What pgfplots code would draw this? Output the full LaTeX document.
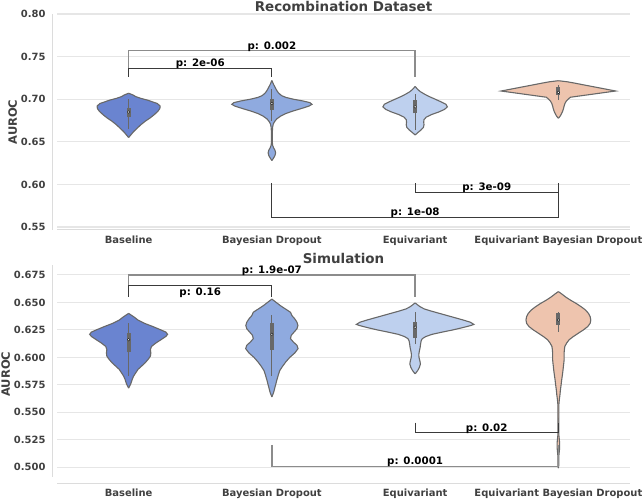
\documentclass[border=0pt]{standalone}
\usepackage{fontspec}
\setmainfont{DejaVu Sans}
\usepackage{pgfplots}
\usepackage{pgfplotstable}
\pgfplotsset{compat=1.18}
\usepgfplotslibrary{fillbetween}

\definecolor{cB}{HTML}{6A84D0}
\definecolor{cBD}{HTML}{8FAADF}
\definecolor{cEq}{HTML}{BED0EE}
\definecolor{cEBD}{HTML}{EEC4AE}
\definecolor{vline}{HTML}{686868}
\definecolor{gridc}{HTML}{E6E6E6}
\definecolor{spinec}{HTML}{DCDCDC}
\definecolor{txt}{HTML}{404040}
\definecolor{brkdark}{HTML}{3A3A3A}
\definecolor{brkgray}{HTML}{8C8C8C}

% ---------- Recombination dataset: violin outlines (y, half width) ----------
\pgfplotstableread{
y w
0.655 0
0.658 0.015
0.662 0.035
0.666 0.06
0.670 0.085
0.674 0.115
0.678 0.15
0.682 0.18
0.686 0.205
0.689 0.218
0.692 0.22
0.695 0.20
0.697 0.165
0.699 0.13
0.701 0.085
0.703 0.05
0.705 0.03
0.707 0
}\tAa
\pgfplotstableread{
y w
0.628 0
0.631 0.012
0.634 0.022
0.637 0.026
0.640 0.022
0.643 0.012
0.646 0.005
0.650 0.003
0.660 0.003
0.667 0.005
0.671 0.01
0.674 0.02
0.677 0.035
0.680 0.06
0.683 0.095
0.686 0.145
0.689 0.205
0.692 0.26
0.694 0.28
0.696 0.265
0.698 0.215
0.700 0.15
0.702 0.10
0.704 0.07
0.707 0.048
0.710 0.035
0.714 0.022
0.718 0.01
0.722 0
}\tAb
\pgfplotstableread{
y w
0.658 0
0.661 0.02
0.664 0.042
0.667 0.058
0.670 0.062
0.673 0.06
0.676 0.062
0.679 0.078
0.682 0.115
0.685 0.165
0.688 0.205
0.691 0.225
0.694 0.215
0.697 0.18
0.700 0.14
0.703 0.10
0.706 0.065
0.709 0.035
0.712 0.015
0.715 0
}\tAc
\pgfplotstableread{
y w
0.6776 0
0.680 0.012
0.683 0.022
0.686 0.03
0.689 0.036
0.692 0.04
0.695 0.046
0.698 0.056
0.700 0.068
0.7023 0.084
0.704 0.157
0.706 0.244
0.708 0.33
0.7096 0.40
0.711 0.357
0.713 0.295
0.715 0.233
0.717 0.171
0.719 0.11
0.7205 0.06
0.7217 0
}\tAd
% ---------- Simulation: violin outlines ----------
\pgfplotstableread{
y w
0.572 0
0.576 0.015
0.580 0.025
0.583 0.035
0.586 0.05
0.589 0.065
0.592 0.09
0.595 0.115
0.598 0.135
0.601 0.152
0.604 0.155
0.607 0.152
0.610 0.16
0.613 0.19
0.616 0.225
0.619 0.26
0.621 0.272
0.623 0.26
0.625 0.225
0.628 0.17
0.631 0.11
0.634 0.065
0.637 0.035
0.640 0
}\tBa
\pgfplotstableread{
y w
0.564 0
0.568 0.012
0.572 0.02
0.576 0.028
0.580 0.036
0.584 0.045
0.588 0.055
0.592 0.075
0.596 0.098
0.600 0.125
0.604 0.16
0.608 0.183
0.611 0.175
0.614 0.15
0.617 0.13
0.620 0.135
0.623 0.155
0.626 0.175
0.629 0.182
0.632 0.175
0.635 0.16
0.638 0.14
0.641 0.13
0.644 0.095
0.647 0.06
0.650 0.03
0.653 0
}\tBb
\pgfplotstableread{
y w
0.585 0
0.588 0.018
0.591 0.03
0.594 0.037
0.597 0.033
0.600 0.027
0.603 0.026
0.606 0.03
0.609 0.035
0.612 0.038
0.615 0.042
0.617 0.05
0.619 0.075
0.621 0.12
0.623 0.19
0.625 0.265
0.627 0.33
0.629 0.39
0.630 0.41
0.632 0.385
0.634 0.335
0.636 0.28
0.638 0.225
0.640 0.17
0.642 0.115
0.644 0.065
0.646 0.035
0.648 0.015
0.6495 0
}\tBc
\pgfplotstableread{
y w
0.4993 0
0.502 0.003
0.510 0.003
0.514 0.006
0.518 0.009
0.522 0.009
0.526 0.006
0.530 0.003
0.545 0.003
0.558 0.004
0.562 0.007
0.566 0.011
0.570 0.014
0.575 0.019
0.5795 0.023
0.584 0.028
0.588 0.032
0.5917 0.035
0.595 0.038
0.5977 0.04
0.601 0.04
0.604 0.04
0.607 0.042
0.610 0.045
0.613 0.058
0.616 0.075
0.619 0.105
0.622 0.14
0.625 0.175
0.628 0.205
0.631 0.222
0.634 0.226
0.637 0.222
0.640 0.21
0.643 0.19
0.646 0.16
0.649 0.125
0.652 0.085
0.655 0.05
0.658 0.02
0.6598 0
}\tBd

% #1 table, #2 position, #3 colour, #4 id
\newcommand{\violin}[4]{%
  \addplot[name path=R#4, draw=none, forget plot] table[x expr={#2+\thisrow{w}}, y=y] {#1};
  \addplot[name path=L#4, draw=none, forget plot] table[x expr={#2-\thisrow{w}}, y=y] {#1};
  \addplot[fill=#3, draw=none, forget plot] fill between[of=R#4 and L#4];
  \addplot[vline, line width=1.1bp, forget plot] table[x expr={#2+\thisrow{w}}, y=y] {#1};
  \addplot[vline, line width=1.1bp, forget plot] table[x expr={#2-\thisrow{w}}, y=y] {#1};
}
% #1 pos, #2 low whisker, #3 q1, #4 median, #5 q3, #6 high whisker
\newcommand{\innerbox}[6]{%
  \addplot[vline, line width=1.2bp, forget plot] coordinates {(#1,#2) (#1,#6)};
  \addplot[vline, line width=4bp, forget plot] coordinates {(#1,#3) (#1,#5)};
  \addplot[only marks, mark=*, mark size=1.3bp, mark options={fill=white, draw=none}, forget plot] coordinates {(#1,#4)};
}

\pgfplotsset{
  vio/.style={
    scale only axis, width=573bp, anchor=south west,
    xmin=-0.5, xmax=3.5, clip=false,
    xtick={0,1,2,3},
    xticklabels={Baseline, Bayesian Dropout, Equivariant, Equivariant Bayesian Dropout},
    major tick length=0pt,
    axis line style={draw=none},
    ymajorgrids, grid style={gridc, line width=1.1bp},
    tick label style={font=\bfseries\fontsize{10}{12}\selectfont, text=txt},
    yticklabel style={xshift=-8bp},
    xticklabel style={yshift=-2.5bp},
    ylabel={AUROC},
    ylabel style={font=\bfseries\fontsize{11.5}{13}\selectfont, text=txt, yshift=-3bp},
    title style={font=\bfseries\fontsize{13.5}{15}\selectfont, text=txt, at={(0.5,1)}, anchor=center},
  },
  brkd/.style={brkdark, line width=1bp, forget plot},
  brkg/.style={brkgray, line width=1.5bp, forget plot},
}
\newcommand{\pnote}{\bfseries\fontsize{10.3}{12}\selectfont}

\begin{document}
\begin{tikzpicture}

% ================= top panel =================
\begin{axis}[vio, at={(57bp,270bp)}, height=216bp,
  ymin=0.5465, ymax=0.80,
  ytick={0.55,0.60,0.65,0.70,0.75,0.80},
  yticklabels={0.55,0.60,0.65,0.70,0.75,0.80},
  title={Recombination Dataset}, title style={yshift=2bp}]
\violin{\tAa}{0}{cB}{a0}
\violin{\tAb}{1}{cBD}{a1}
\violin{\tAc}{2}{cEq}{a2}
\violin{\tAd}{3}{cEBD}{a3}
\innerbox{0}{0.665}{0.679}{0.685}{0.690}{0.700}
\innerbox{1}{0.675}{0.687}{0.695}{0.700}{0.712}
\innerbox{2}{0.664}{0.6835}{0.691}{0.6995}{0.706}
\innerbox{3}{0.699}{0.705}{0.708}{0.714}{0.717}
% significance brackets
\addplot[brkg] coordinates {(0,0.7264) (0,0.7569) (2,0.7569) (2,0.7264)};
\addplot[brkd] coordinates {(0,0.7264) (0,0.7363) (1,0.7363) (1,0.7264)};
\addplot[brkd] coordinates {(2,0.6012) (2,0.5907) (3,0.5907) (3,0.6012)};
\addplot[brkd] coordinates {(1,0.6012) (1,0.5613) (3,0.5613) (3,0.6012)};
\node[font=\pnote, anchor=base, yshift=2bp] at (axis cs:0.5,0.7363) {p: 2e-06};
\node[font=\pnote, anchor=base, yshift=1.5bp] at (axis cs:1,0.7569) {p: 0.002};
\node[font=\pnote, anchor=base, yshift=2bp] at (axis cs:2.5,0.5907) {p: 3e-09};
\node[font=\pnote, anchor=base, yshift=2bp] at (axis cs:2,0.5613) {p: 1e-08};
\draw[spinec, line width=1bp] (rel axis cs:0,0) -- (rel axis cs:1,0);
\draw[spinec, line width=1bp] ([xshift=-5bp]rel axis cs:0,0) -- ([xshift=-5bp]rel axis cs:0,1);
\end{axis}

% ================= bottom panel =================
\begin{axis}[vio, at={(57bp,16.7bp)}, height=218.3bp,
  ymin=0.4855, ymax=0.684,
  ytick={0.500,0.525,0.550,0.575,0.600,0.625,0.650,0.675},
  yticklabels={0.500,0.525,0.550,0.575,0.600,0.625,0.650,0.675},
  title={Simulation}, title style={yshift=1bp}]
\violin{\tBa}{0}{cB}{b0}
\violin{\tBb}{1}{cBD}{b1}
\violin{\tBc}{2}{cEq}{b2}
\violin{\tBd}{3}{cEBD}{b3}
\innerbox{0}{0.583}{0.6045}{0.616}{0.6225}{0.631}
\innerbox{1}{0.583}{0.607}{0.621}{0.631}{0.6386}
\innerbox{2}{0.612}{0.6175}{0.6275}{0.6326}{0.641}
\innerbox{3}{0.6235}{0.6295}{0.634}{0.6402}{0.6417}
% significance brackets
\addplot[brkg] coordinates {(0,0.6553) (0,0.675) (2,0.675) (2,0.6553)};
\addplot[brkd] coordinates {(0,0.6553) (0,0.665) (1,0.665) (1,0.6553)};
\addplot[brkd] coordinates {(2,0.5407) (2,0.5317) (3,0.5317) (3,0.5407)};
\addplot[brkg] coordinates {(1,0.5205) (1,0.5008) (3,0.5008) (3,0.5205)};
\node[font=\pnote, anchor=base, yshift=1.5bp] at (axis cs:1,0.675) {p: 1.9e-07};
\node[font=\pnote, anchor=base, yshift=-9.2bp] at (axis cs:0.5,0.665) {p: 0.16};
\node[font=\pnote, anchor=base, yshift=1bp] at (axis cs:2.5,0.5317) {p: 0.02};
\node[font=\pnote, anchor=base, yshift=1.5bp] at (axis cs:2,0.5008) {p: 0.0001};
\draw[spinec, line width=1bp] (rel axis cs:0,0) -- (rel axis cs:1,0);
\draw[spinec, line width=1bp] ([xshift=-5bp]rel axis cs:0,0.03) -- ([xshift=-5bp]rel axis cs:0,1);
\end{axis}
\pgfresetboundingbox
\path (0,0) rectangle (643bp,500bp);
\end{tikzpicture}
\end{document}
